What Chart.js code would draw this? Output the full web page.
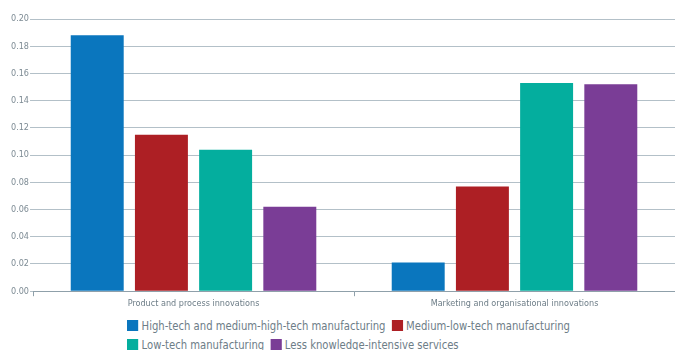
<!DOCTYPE html>
<html lang="en">
<head>
    <meta charset="UTF-8">
    <title>Innovation by sector</title>
    <script src="https://cdn.jsdelivr.net/npm/chart.js"></script>
    <style>
        body {
            margin: 0;
            background: #fff;
            font-family: 'DejaVu Sans Condensed', 'Liberation Sans Narrow', sans-serif;
        }
        .wrap {
            position: relative;
            width: 675px;
            height: 350px;
            overflow: hidden;
        }
        #legend {
            position: absolute;
            left: 127px;
            top: 316px;
            white-space: nowrap;
            font-size: 13px;
            color: #6d7d87;
            line-height: 19px;
            transform: scaleX(0.86);
            transform-origin: left top;
        }
        #legend span.item {
            display: inline-block;
            margin-right: 7px;
        }
        #legend span.box {
            display: inline-block;
            width: 13px;
            height: 11px;
            margin-right: 4px;
            vertical-align: -1px;
        }
    </style>
</head>
<body>
    <div class="wrap">
        <canvas id="chart" width="675" height="311"></canvas>
        <div id="legend"></div>
    </div>

    <script>
        const categories = ['Product and process innovations', 'Marketing and organisational innovations'];
        const seriesNames = [
            'High-tech and medium-high-tech manufacturing',
            'Medium-low-tech manufacturing',
            'Low-tech manufacturing',
            'Less knowledge-intensive services'
        ];
        const highTech = [0.188, 0.021];
        const mediumLowTech = [0.115, 0.077];
        const lowTech = [0.104, 0.153];
        const lessKnowledge = [0.062, 0.152];
        const colors = ['#0a76be', '#ad1f24', '#04ae9e', '#7a3d96'];
        const yTicks = [0, 0.02, 0.04, 0.06, 0.08, 0.10, 0.12, 0.14, 0.16, 0.18, 0.20];

        const values = [highTech, mediumLowTech, lowTech, lessKnowledge];
        const fontFamily = "'DejaVu Sans Condensed', 'Liberation Sans Narrow', sans-serif";

        const ctx = document.getElementById('chart').getContext('2d');
        new Chart(ctx, {
            type: 'bar',
            data: {
                labels: categories,
                datasets: seriesNames.map((name, i) => ({
                    label: name,
                    data: values[i],
                    backgroundColor: colors[i],
                    categoryPercentage: 0.8,
                    barPercentage: 0.825
                }))
            },
            options: {
                responsive: false,
                animation: false,
                // the original plot runs slightly past the right edge
                layout: { padding: { left: 10, top: 19, right: -4, bottom: 0 } },
                plugins: {
                    legend: { display: false },
                    tooltip: { enabled: false }
                },
                scales: {
                    x: {
                        grid: {
                            offset: true,
                            drawOnChartArea: false,
                            tickLength: 5,
                            color: '#8fa0aa'
                        },
                        border: { color: '#8fa0aa', width: 1 },
                        ticks: {
                            color: '#6d7d87',
                            font: { family: fontFamily, size: 9 },
                            padding: 2
                        }
                    },
                    y: {
                        min: 0,
                        max: 0.2,
                        afterBuildTicks: axis => {
                            axis.ticks = yTicks.map(v => ({ value: v }));
                        },
                        grid: {
                            color: '#b3c0c8',
                            tickLength: 3,
                            lineWidth: 1
                        },
                        border: { display: false },
                        ticks: {
                            color: '#7d8b94',
                            font: { family: fontFamily, size: 9 },
                            padding: 1,
                            callback: v => Number(v).toFixed(2)
                        }
                    }
                }
            }
        });

        // legend below the chart, left aligned like the original
        const legend = document.getElementById('legend');
        seriesNames.forEach((name, i) => {
            const item = document.createElement('span');
            item.className = 'item';
            item.innerHTML = '<span class="box" style="background:' + colors[i] + '"></span>' + name;
            legend.appendChild(item);
            if (i === 1) legend.appendChild(document.createElement('br'));
        });
    </script>
</body>
</html>
